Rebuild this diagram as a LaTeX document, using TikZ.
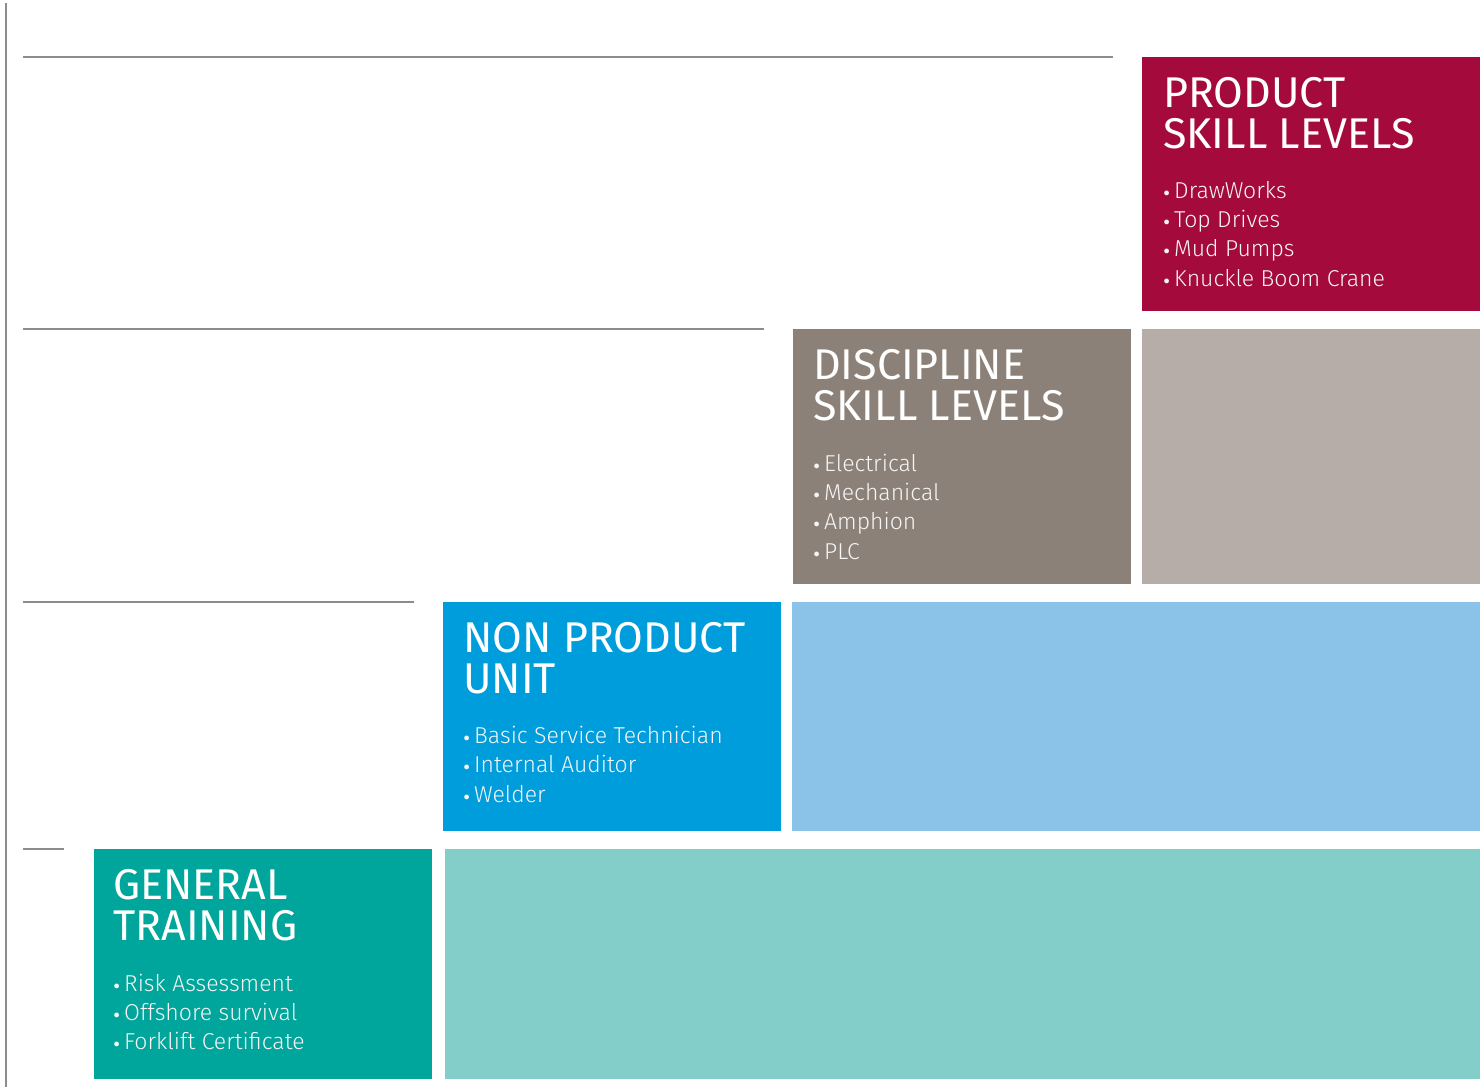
\documentclass[tikz,border=0pt]{standalone}
\usepackage{fontspec}
\setmainfont{Fira Sans}[UprightFont=* Light]
\newfontfamily\ttlfont{Fira Sans}
\definecolor{prodc}{HTML}{A50A3C}
\definecolor{discc}{HTML}{8C8178}
\definecolor{discl}{HTML}{B6ADA9}
\definecolor{nonc}{HTML}{009DDC}
\definecolor{nonl}{HTML}{8BC3E8}
\definecolor{genc}{HTML}{00A59B}
\definecolor{genl}{HTML}{83CEC8}
\definecolor{rulec}{HTML}{8C8C8C}
\tikzset{
  rulel/.style={draw=rulec, line width=1.3pt},
  ttl/.style={anchor=base west, inner sep=0pt, text=white, font=\ttlfont\fontsize{43}{43}\selectfont},
  itm/.style={anchor=base west, inner sep=0pt, text=white!92!gray, font=\fontsize{23}{23}\selectfont},
}
\newcommand{\bl}{\makebox[12pt][l]{\raisebox{-6.5pt}{\fontsize{32}{23}\selectfont\textbullet}}}
\begin{document}
\begin{tikzpicture}[x=1pt,y=-1pt]
\useasboundingbox (0,0) rectangle (1480,1087);
% rules
\draw[rulel] (6,3) -- (6,1087);
\draw[rulel] (23,57) -- (1113,57);
\draw[rulel] (23,329) -- (764,329);
\draw[rulel] (23,602) -- (414,602);
\draw[rulel] (23,849) -- (64,849);
% boxes
\fill[prodc] (1142,57) rectangle (1480,311);
\fill[discc] (793,329) rectangle (1131,584);
\fill[discl] (1142,329) rectangle (1480,584);
\fill[nonc] (443,602) rectangle (781,831);
\fill[nonl] (792,602) rectangle (1480,831);
\fill[genc] (94,849) rectangle (432,1079);
\fill[genl] (445,849) rectangle (1480,1079);
% product
\node[ttl] (p1) at (1163,107) {PRODUCT};
\node[ttl] (p2) at (1163,148) {SKILL LEVELS};
\node[itm] (pa) at (1162,198) {\bl DrawWorks};
\node[itm] (pb) at (1162,227) {\bl Top Drives};
\node[itm] (pc) at (1162,256) {\bl Mud Pumps};
\node[itm] (pd) at (1162,286) {\bl Knuckle Boom Crane};
% discipline
\node[ttl] (d1) at (813,379) {DISCIPLINE};
\node[ttl] (d2) at (813,420) {SKILL LEVELS};
\node[itm] (da) at (812,471) {\bl Electrical};
\node[itm] (db) at (812,500) {\bl Mechanical};
\node[itm] (dc) at (812,529) {\bl Amphion};
\node[itm] (dd) at (812,559) {\bl PLC};
% non product
\node[ttl] (n1) at (463,652) {NON PRODUCT};
\node[ttl] (n2) at (463,693) {UNIT};
\node[itm] (na) at (462,743) {\bl Basic Service Technician};
\node[itm] (nb) at (462,772) {\bl Internal Auditor};
\node[itm] (nc) at (462,802) {\bl Welder};
% general
\node[ttl] (g1) at (113,899) {GENERAL};
\node[ttl] (g2) at (113,940) {TRAINING};
\node[itm] (ga) at (112,991) {\bl Risk Assessment};
\node[itm] (gb) at (112,1020) {\bl Offshore survival};
\node[itm] (gc) at (112,1049) {\bl Forklift Certificate};
\end{tikzpicture}
\end{document}
